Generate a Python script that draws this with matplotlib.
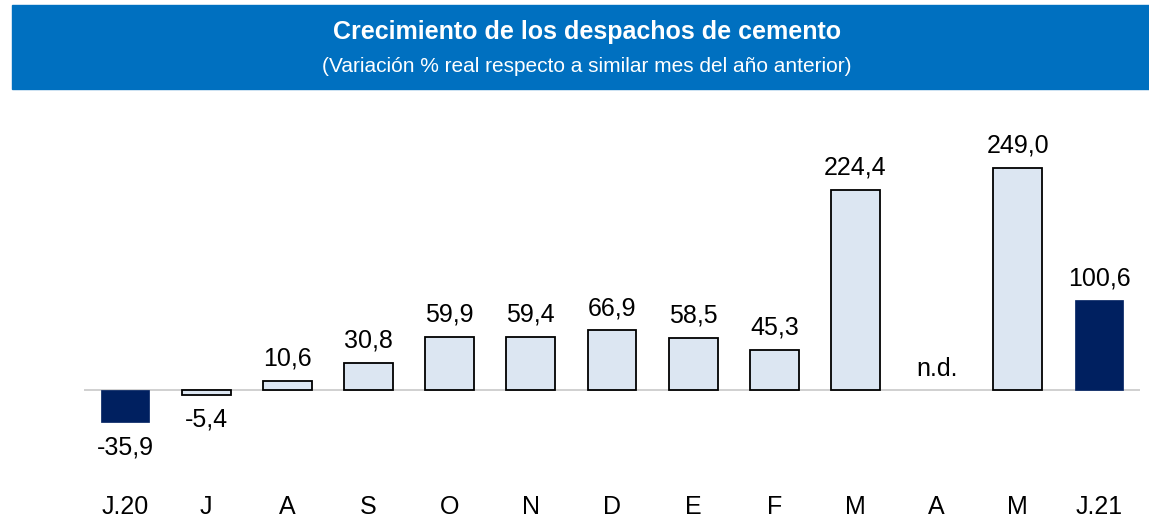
import numpy as np
import matplotlib.pyplot as plt
from matplotlib.patches import Rectangle

# Datos del gráfico
meses = ["J.20", "J", "A", "S", "O", "N", "D", "E", "F", "M", "A", "M", "J.21"]
variacion = [-35.9, -5.4, 10.6, 30.8, 59.9, 59.4, 66.9, 58.5, 45.3, 224.4, np.nan, 249.0, 100.6]
destacados = [0, 12]  # barras en azul oscuro

W, H = 1149, 519
fig = plt.figure(figsize=(W / 100, H / 100), dpi=100)
fuente = "Liberation Sans"

# Banda de título
fig.patches.append(Rectangle((12 / W, 1 - 89 / H), (W - 12) / W, 84 / H,
                             transform=fig.transFigure, color="#0070C0", zorder=0))
fig.text(587 / W, 1 - 32 / H, "Crecimiento de los despachos de cemento",
         color="white", fontsize=18, fontweight="bold", ha="center", va="center",
         family=fuente)
fig.text(587 / W, 1 - 66 / H, "(Variación % real respecto a similar mes del año anterior)",
         color="white", fontsize=15, ha="center", va="center", family=fuente)

# Ejes
y0, y1 = -60, 280
px_per = (390 - 168) / 249.0
top_px = 390 - y1 * px_per
bot_px = 390 - y0 * px_per
left_px, right_px = 84.4, 1139.6
ax = fig.add_axes([left_px / W, 1 - bot_px / H, (right_px - left_px) / W, (bot_px - top_px) / H])
ax.set_xlim(-0.5, len(meses) - 0.5)
ax.set_ylim(y0, y1)
ax.axis("off")

for i, v in enumerate(variacion):
    if np.isnan(v):
        ax.annotate("n.d.", (i, 0), xytext=(0, 15), textcoords="offset points",
                    ha="center", va="center", fontsize=18, family=fuente)
        continue
    if i in destacados:
        ax.bar(i, v, width=0.6, color="#002060", edgecolor="#002060", linewidth=0.5, zorder=2)
    else:
        ax.bar(i, v, width=0.6, color="#DCE6F2", edgecolor="black", linewidth=1.3, zorder=2)
    etiqueta = f"{v:.1f}".replace(".", ",")
    desplaz = 16 if v >= 0 else -18
    ax.annotate(etiqueta, (i, v), xytext=(0, desplaz), textcoords="offset points",
                ha="center", va="center", fontsize=18, family=fuente)

ax.axhline(0, color="#C8C8C8", linewidth=1.2, zorder=1)

for i, m in enumerate(meses):
    ax.text(i, -60 - (507 - bot_px) / px_per, m, ha="center", va="center",
            fontsize=18, family=fuente)

fig.savefig("out.png", dpi=100)
